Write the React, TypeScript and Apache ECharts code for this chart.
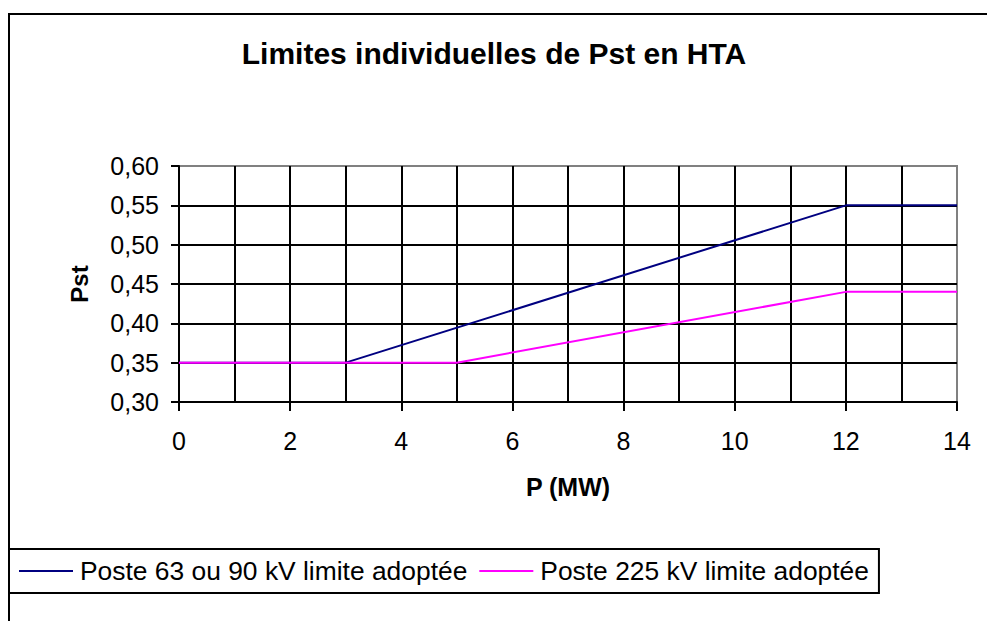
import React, { useEffect, useRef } from "react";
import * as echarts from "echarts";

const titleText = "Limites individuelles de Pst en HTA";
const xName = "P (MW)";
const yName = "Pst";
const seriesNames = ["Poste 63 ou 90 kV limite adoptée", "Poste 225 kV limite adoptée"];
const seriesColors = ["#000080", "#FF00FF"];
const poste63x = [0, 3, 12, 14];
const poste63y = [0.35, 0.35, 0.55, 0.55];
const poste225x = [0, 5, 12, 14];
const poste225y = [0.35, 0.35, 0.44, 0.44];

const FONT = "'Liberation Sans', Arial, sans-serif";

export default function App() {
  const ref = useRef<HTMLDivElement>(null);
  useEffect(() => {
    if (!ref.current) return;
    const chart = echarts.init(ref.current, undefined, { renderer: "svg" });
    const zip = (xs: number[], ys: number[]) => xs.map((x, i) => [x, ys[i]]);
    chart.setOption({
      animation: false,
      backgroundColor: "#ffffff",
      textStyle: { fontFamily: FONT, color: "#000" },
      title: {
        text: titleText,
        left: 489,
        textAlign: "center",
        top: 33,
        textStyle: { fontFamily: FONT, fontWeight: "bold", fontSize: 30, color: "#000" },
      },
      graphic: [
        {
          type: "rect",
          shape: { x: 9, y: 14, width: 1000, height: 640 },
          style: { fill: "none", stroke: "#000", lineWidth: 2 },
          silent: true,
          z: -1,
        },
      ],
      grid: {
        left: 179,
        right: 30,
        top: 166,
        bottom: 219,
        show: true,
        borderColor: "#808080",
        borderWidth: 2,
        backgroundColor: "transparent",
      },
      legend: {
        left: 9,
        top: 549,
        orient: "horizontal",
        icon: "rect",
        itemWidth: 54,
        itemHeight: 2,
        itemGap: 12,
        padding: [9, 10, 9, 10],
        borderColor: "#000",
        borderWidth: 2,
        backgroundColor: "#fff",
        textStyle: { fontFamily: FONT, fontSize: 26.4, color: "#000", padding: [0, 0, 0, 2] },
        data: seriesNames,
      },
      xAxis: {
        type: "value",
        min: 0,
        max: 14,
        interval: 2,
        name: xName,
        nameLocation: "middle",
        nameGap: 72,
        nameTextStyle: { fontFamily: FONT, fontWeight: "bold", fontSize: 25, color: "#000" },
        axisLine: { show: true, lineStyle: { color: "#000", width: 2 } },
        axisTick: { show: true, length: 9, lineStyle: { color: "#000", width: 2 } },
        axisLabel: { fontFamily: FONT, fontSize: 25, color: "#000", margin: 26 },
        splitLine: { show: true, showMinLine: false, showMaxLine: false, lineStyle: { color: "#000", width: 2 } },
        minorTick: { show: false, splitNumber: 2 },
        minorSplitLine: { show: true, lineStyle: { color: "#000", width: 2 } },
      },
      yAxis: {
        type: "value",
        min: 0.3,
        max: 0.6,
        interval: 0.05,
        name: yName,
        nameLocation: "middle",
        nameGap: 88,
        nameRotate: 90,
        nameTextStyle: { fontFamily: FONT, fontWeight: "bold", fontSize: 24, color: "#000" },
        axisLine: { show: true, lineStyle: { color: "#000", width: 2 } },
        axisTick: { show: true, length: 8, lineStyle: { color: "#000", width: 2 } },
        axisLabel: {
          fontFamily: FONT,
          fontSize: 25,
          color: "#000",
          margin: 20,
          formatter: (v: number) => v.toFixed(2).replace(".", ","),
        },
        splitLine: { show: true, showMinLine: false, showMaxLine: false, lineStyle: { color: "#000", width: 2 } },
      },
      series: [
        {
          name: seriesNames[0],
          type: "line",
          data: zip(poste63x, poste63y),
          showSymbol: false,
          symbol: "none",
          lineStyle: { color: seriesColors[0], width: 2 },
          itemStyle: { color: seriesColors[0] },
          z: 3,
        },
        {
          name: seriesNames[1],
          type: "line",
          data: zip(poste225x, poste225y),
          showSymbol: false,
          symbol: "none",
          lineStyle: { color: seriesColors[1], width: 2 },
          itemStyle: { color: seriesColors[1] },
          z: 4,
        },
      ],
    });
    return () => chart.dispose();
  }, []);
  return (
    <div
      ref={ref}
      style={{ position: "absolute", left: 0, top: 0, width: 987, height: 621 }}
    />
  );
}
